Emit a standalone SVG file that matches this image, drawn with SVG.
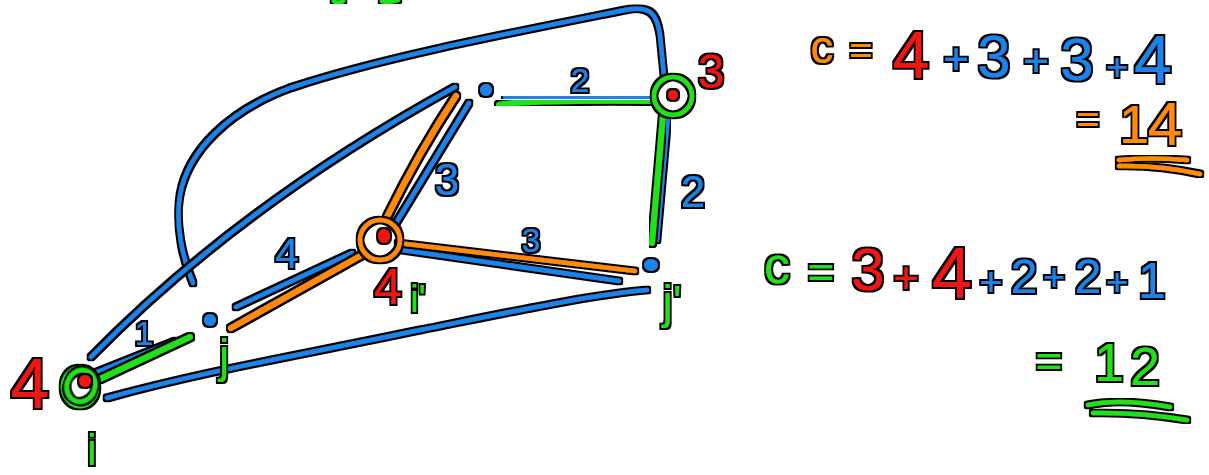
<svg xmlns="http://www.w3.org/2000/svg" width="1209" height="475" viewBox="0 0 1209 475">
<defs>
<filter id="ol" x="-20%" y="-20%" width="140%" height="140%">
<feMorphology in="SourceAlpha" operator="dilate" radius="1.5" result="d"/>
<feFlood flood-color="#000"/>
<feComposite in2="d" operator="in" result="k"/>
<feMerge><feMergeNode in="k"/><feMergeNode in="SourceGraphic"/></feMerge>
</filter>
</defs>
<style>
.s{fill:none;stroke-linecap:round;stroke-linejoin:round;stroke-width:4.5;filter:url(#ol)}
.b{stroke:#1a84e8}.g{stroke:#22e01a}.o{stroke:#ff8a0c}.r{stroke:#f01212}
.w{stroke-width:6}
.d{filter:url(#ol)}
.t{font-family:"Liberation Sans",Arial,sans-serif;filter:url(#ol)}
.fb{fill:#1a84e8}.fg{fill:#22e01a}.fo{fill:#ff8a0c}.fr{fill:#f01212}
</style>
<rect width="1209" height="475" fill="#fff"/>
<g id="connectors">
<path class="s g" d="M334,1 Q338,5 343,1 M382,1 Q390,3 398,0"/>
<path class="s b" d="M193,283 C183,260 175,225 180,195 C188,150 230,110 290,88 C380,58 500,35 625,10 C652,5 657,15 660,35 L664,76"/>
<path class="s b" d="M91,357 Q240,205 455,87"/>
<path class="s b" d="M107,398 C200,372 300,355 420,330 C520,310 590,295 647,290"/>
<path class="s b" d="M236,307 L352,253"/>
<path class="s o w" d="M231,328 L362,255"/>
<path class="s b" d="M97,372 L175,341"/>
<path class="s g w" d="M100,379 L190,337"/>
<path class="s b" d="M396,223 L469,103"/>
<path class="s o w" d="M387,217 Q420,150 456,96"/>
<path class="s b" d="M402,250 L619,281"/>
<path class="s o" d="M398,243 L635,271"/>
<path class="s b" d="M505,97 L650,98"/>
<path class="s g w" d="M499,105 Q520,100 652,101"/>
<path class="s b" d="M668,116 L657,240"/>
<path class="s g w" d="M663,115 L652,243"/>
</g>
<g id="node-i">
<ellipse class="s g" cx="80" cy="387" rx="17" ry="19"/>
<ellipse class="s g" cx="81" cy="386" rx="14" ry="16" transform="rotate(20 81 386)"/>
<circle class="d fr" cx="85" cy="381" r="6"/>
<text class="t fr" x="30" y="408" font-size="70" text-anchor="middle">4</text>
<text class="t fg" x="92" y="465" font-size="44" text-anchor="middle">i</text>
</g>
<g id="node-j">
<circle class="d fb" cx="210" cy="320" r="6"/>
<text class="t fg" x="224" y="372" font-size="46" text-anchor="middle">j</text>
<text class="t fb" x="144" y="345" font-size="34" text-anchor="middle">1</text>
<text class="t fb" x="287" y="268" font-size="42" text-anchor="middle">4</text>
</g>
<g id="node-i2">
<circle class="s o" cx="380" cy="240" r="20"/>
<ellipse class="d fr" cx="384" cy="236" rx="6" ry="7"/>
<text class="t fr" x="388" y="304" font-size="50" text-anchor="middle">4</text>
<text class="t fg" x="418" y="312" font-size="38" text-anchor="middle">i'</text>
<text class="t fb" x="447" y="195" font-size="44" text-anchor="middle">3</text>
<text class="t fb" x="531" y="252" font-size="34" text-anchor="middle">3</text>
</g>
<g id="node-top">
<circle class="d fb" cx="486" cy="90" r="6"/>
<text class="t fb" x="580" y="92" font-size="34" text-anchor="middle">2</text>
</g>
<g id="node-3">
<circle class="s g" cx="673" cy="96" r="19"/>
<circle class="d fr" cx="673" cy="95" r="5"/>
<text class="t fr" x="711" y="88" font-size="48" text-anchor="middle">3</text>
<text class="t fb" x="693" y="207" font-size="44" text-anchor="middle">2</text>
</g>
<g id="node-j2">
<ellipse class="d fb" cx="651" cy="265" rx="7" ry="6"/>
<text class="t fg" x="672" y="318" font-size="46" text-anchor="middle">j'</text>
</g>
<g id="eq1">
<text class="t" font-size="60" text-anchor="middle"><tspan class="fo" x="822" y="63" font-size="46">c</tspan><tspan class="fo" x="861" y="64" font-size="40">=</tspan><tspan class="fr" x="911" y="78" font-size="66">4</tspan><tspan class="fb" x="956" y="74" font-size="44">+</tspan><tspan class="fb" x="994" y="77">3</tspan><tspan class="fb" x="1036" y="76" font-size="44">+</tspan><tspan class="fb" x="1077" y="80">3</tspan><tspan class="fb" x="1117" y="80" font-size="38">+</tspan><tspan class="fb" x="1153" y="83" font-size="68">4</tspan></text>
<text class="t fo" font-size="60" text-anchor="middle"><tspan x="1088" y="133" font-size="40">=</tspan><tspan x="1134" y="143" font-size="54">1</tspan><tspan x="1165" y="145" font-size="62">4</tspan></text>
<path class="s o" d="M1119,160 Q1150,157 1187,160 M1119,166 Q1160,165 1200,174"/>
</g>
<g id="eq2">
<text class="t" font-size="60" text-anchor="middle"><tspan class="fg" x="777" y="283" font-size="52">c</tspan><tspan class="fg" x="821" y="288" font-size="46">=</tspan><tspan class="fr" x="868" y="290">3</tspan><tspan class="fr" x="906" y="293" font-size="44">+</tspan><tspan class="fr" x="952" y="298" font-size="72">4</tspan><tspan class="fb" x="991" y="296" font-size="40">+</tspan><tspan class="fb" x="1024" y="293" font-size="48">2</tspan><tspan class="fb" x="1054" y="290" font-size="38">+</tspan><tspan class="fb" x="1088" y="293" font-size="48">2</tspan><tspan class="fb" x="1117" y="295" font-size="38">+</tspan><tspan class="fb" x="1152" y="298" font-size="50">1</tspan></text>
<text class="t fg" font-size="60" text-anchor="middle"><tspan x="1049" y="377" font-size="46">=</tspan><tspan x="1109" y="381" font-size="54">1</tspan><tspan x="1145" y="385" font-size="54">2</tspan></text>
<path class="s g" d="M1088,405 Q1120,398 1170,407 M1093,413 Q1140,412 1187,420"/>
</g>
</svg>
